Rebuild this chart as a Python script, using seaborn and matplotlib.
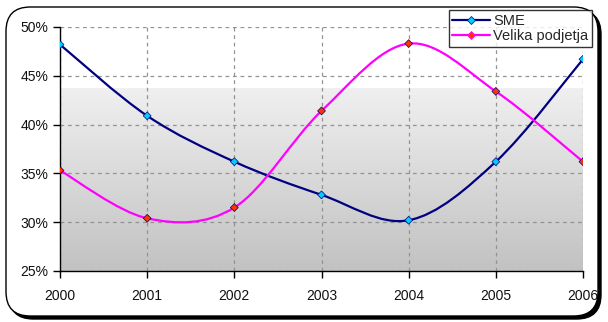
#!/usr/bin/env python3
"""SME vs. large companies share, 2000-2006, in an old Excel look."""

import matplotlib

matplotlib.use("Agg")

import matplotlib.pyplot as plt
import numpy as np
import pandas as pd
import seaborn as sns
from matplotlib.patches import FancyBboxPatch
from matplotlib.path import Path
from matplotlib.patches import PathPatch
from matplotlib.ticker import FuncFormatter, MultipleLocator

years = [2000, 2001, 2002, 2003, 2004, 2005, 2006]
sme = [48.2, 40.9, 36.2, 32.8, 30.2, 36.2, 46.7]
velika = [35.3, 30.4, 31.5, 41.4, 48.3, 43.4, 36.2]
series_names = ["SME", "Velika podjetja"]

sns.set_theme(style="white")
plt.rcParams["font.family"] = ["Liberation Sans", "DejaVu Sans"]

df = pd.DataFrame({"year": years, series_names[0]: sme, series_names[1]: velika})
long_df = df.melt(id_vars="year", var_name="series", value_name="share")

line_colors = {"SME": "#000080", "Velika podjetja": "#ff00ff"}
marker_colors = {"SME": "#00ccff", "Velika podjetja": "#ff3300"}


def smooth_path(x, y):
    # Excel-style smoothing: cubic Bezier segments with Catmull-Rom tangents
    pts = np.column_stack([x, y]).astype(float)
    n = len(pts)
    verts = [pts[0]]
    codes = [Path.MOVETO]
    for i in range(n - 1):
        p0 = pts[i - 1] if i > 0 else pts[i]
        p1 = pts[i]
        p2 = pts[i + 1]
        p3 = pts[i + 2] if i + 2 < n else pts[i + 1]
        c1 = p1 + (p2 - p0) / 6.0
        c2 = p2 - (p3 - p1) / 6.0
        verts += [c1, c2, p2]
        codes += [Path.CURVE4] * 3
    return Path(verts, codes)


fig = plt.figure(figsize=(6.08, 3.22), dpi=100)
fig.patch.set_facecolor("white")

# rounded chart frame with a drop shadow
shadow = FancyBboxPatch(
    (9 / 608, 3 / 322), 592 / 608, 309 / 322,
    boxstyle="round,pad=0,rounding_size=0.04",
    transform=fig.transFigure, facecolor="black", edgecolor="black",
    mutation_aspect=608 / 322, zorder=-2,
)
frame = FancyBboxPatch(
    (6 / 608, 6 / 322), 592 / 608, 309 / 322,
    boxstyle="round,pad=0,rounding_size=0.04",
    transform=fig.transFigure, facecolor="white", edgecolor="black",
    linewidth=1.0, mutation_aspect=608 / 322, zorder=-1,
)
fig.patches.extend([shadow, frame])

ax = fig.add_axes([60 / 608, 51 / 322, 523 / 608, 244 / 322])
ax.set_facecolor("none")

# gradient background: white on top, fading into grey toward the bottom
grad = np.linspace(0, 1, 256).reshape(-1, 1)
vals = np.where(grad < 0.75, 0.76 + (0.94 - 0.76) * grad / 0.75, 1.0)
ax.imshow(
    np.dstack([vals, vals, vals]), extent=[0, 1, 0, 1], origin="lower",
    aspect="auto", transform=ax.transAxes, zorder=0, interpolation="bilinear",
)

for name in series_names:
    sub = long_df[long_df["series"] == name]
    ax.add_patch(PathPatch(
        smooth_path(sub["year"], sub["share"]), facecolor="none",
        edgecolor=line_colors[name], linewidth=1.6, zorder=3,
    ))

sns.scatterplot(
    data=long_df, x="year", y="share", hue="series", palette=marker_colors,
    marker="D", s=16, linewidth=0.5, legend=False, ax=ax, zorder=4,
)
for coll, name in zip(ax.collections, series_names):
    coll.set_edgecolor(line_colors[name])

ax.set_xlim(2000, 2006)
ax.set_ylim(25, 50)
ax.xaxis.set_major_locator(MultipleLocator(1))
ax.yaxis.set_major_locator(MultipleLocator(5))
ax.yaxis.set_major_formatter(FuncFormatter(lambda v, _: f"{v:.0f}%"))
ax.set_xlabel("")
ax.set_ylabel("")

ax.grid(True, color="#939393", linestyle=(0, (3, 3)), linewidth=0.9, zorder=1)
ax.set_axisbelow(True)
for side in ["top", "right"]:
    ax.spines[side].set_visible(False)
for side in ["left", "bottom"]:
    ax.spines[side].set_color("black")
    ax.spines[side].set_linewidth(1.0)
ax.tick_params(
    axis="both", which="major", direction="out", length=5, width=1,
    color="black", labelsize=10, labelcolor="#111111", left=True, bottom=True,
)
ax.tick_params(axis="x", pad=8)

handles = [
    plt.Line2D([], [], color=line_colors[n], linewidth=1.6, marker="D",
               markersize=4, markerfacecolor=marker_colors[n],
               markeredgecolor=line_colors[n], markeredgewidth=0.5)
    for n in series_names
]
leg = fig.legend(
    handles, series_names, loc="upper right",
    bbox_to_anchor=(592 / 608, 312 / 322), frameon=True, fancybox=False,
    fontsize=10.5, handlelength=2.6, handletextpad=0.2, borderpad=0.25,
    labelspacing=0.1, borderaxespad=0,
)
leg.get_frame().set_edgecolor("black")
leg.get_frame().set_linewidth(1.0)
leg.get_frame().set_facecolor("white")

fig.savefig("out.png", dpi=100)
